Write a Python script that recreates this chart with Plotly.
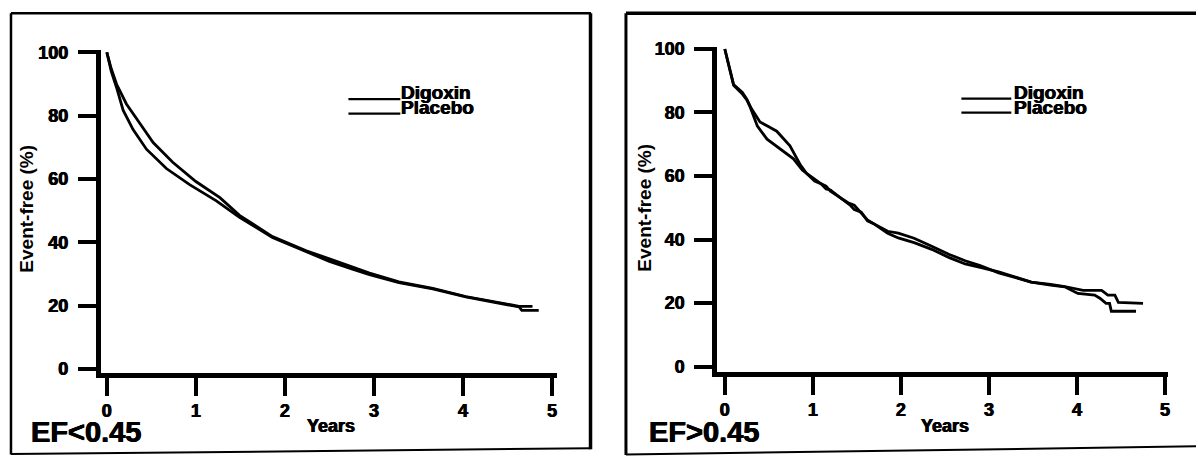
import plotly.graph_objects as go

# ---- Kaplan-Meier style event-free curves (years, % event-free) ----
# EF < 0.45
low_dig_t = [0, 0.05, 0.11, 0.22, 0.37, 0.52, 0.74, 1.00, 1.27, 1.49, 1.86, 2.24, 2.50, 2.75, 2.95, 3.28, 3.66, 4.03, 4.41, 4.63, 4.78]
low_dig_v = [100, 94.8, 89.9, 83.7, 77.6, 71.5, 65.3, 59.2, 54.1, 48.5, 41.8, 37.3, 34.8, 32.4, 30.3, 27.5, 25.5, 22.9, 20.9, 19.8, 19.8]
low_pla_t = [0, 0.05, 0.109, 0.183, 0.295, 0.445, 0.669, 0.93, 1.23, 1.49, 1.86, 2.24, 2.50, 2.75, 2.95, 3.28, 3.66, 4.03, 4.41, 4.63, 4.66, 4.85]
low_pla_v = [100, 94.0, 88.9, 81.7, 75.6, 69.4, 63.3, 58.2, 53.1, 47.9, 41.5, 37.0, 34.0, 31.6, 29.8, 27.3, 25.3, 22.8, 20.7, 19.6, 18.5, 18.5]

# EF > 0.45
high_dig_t = [0, 0.05, 0.10, 0.20, 0.25, 0.30, 0.40, 0.50, 0.59, 0.74, 0.86, 0.93, 1.00, 1.09, 1.15, 1.20, 1.31, 1.40, 1.47, 1.55, 1.62, 1.69, 1.85, 1.97, 2.15, 2.35, 2.55, 2.73, 2.90, 3.11, 3.30, 3.48, 3.70, 3.86, 4.07, 4.28, 4.35, 4.43, 4.47, 4.75]
high_dig_v = [100, 94.3, 88.8, 86.3, 84.2, 81.3, 77.0, 75.5, 74.1, 69.5, 63.4, 60.8, 59.4, 57.6, 56.8, 55.2, 53.2, 51.6, 50.8, 48.2, 46.2, 45.0, 42.6, 42.0, 40.4, 37.9, 35.3, 33.3, 31.8, 29.5, 28.1, 26.6, 25.9, 25.2, 24.0, 24.0, 22.5, 22.5, 20.2, 19.9]
high_pla_t = [0, 0.05, 0.10, 0.20, 0.25, 0.29, 0.37, 0.48, 0.63, 0.78, 0.88, 0.93, 1.02, 1.09, 1.15, 1.20, 1.31, 1.42, 1.47, 1.55, 1.62, 1.69, 1.85, 1.97, 2.15, 2.35, 2.55, 2.73, 2.90, 3.11, 3.30, 3.48, 3.70, 3.86, 4.01, 4.20, 4.26, 4.33, 4.37, 4.39, 4.67]
high_pla_v = [100, 94.0, 88.6, 85.8, 84.0, 81.6, 75.7, 71.6, 68.5, 65.4, 61.9, 60.8, 58.4, 57.6, 55.9, 55.6, 53.2, 50.9, 49.4, 48.6, 45.9, 45.0, 42.0, 40.5, 39.0, 36.9, 34.3, 32.3, 31.2, 29.8, 28.2, 26.6, 25.6, 25.1, 23.0, 22.5, 21.5, 19.9, 19.9, 17.4, 17.4]

x_ticks = [0, 1, 2, 3, 4, 5]
y_ticks = [0, 20, 40, 60, 80, 100]
series_names = ["Digoxin", "Placebo"]
panel_labels = ["EF<0.45", "EF>0.45"]
x_title = "Years"
y_title = "Event-free (%)"

W, H = 1198, 464
FONT = "Liberation Sans, Arial, Helvetica, sans-serif"
INK = "black"
HEAVY = "0.45px 0 0 black, -0.45px 0 0 black"


def fx(p):
    return p / W


def fy(p):
    return 1 - p / H


fig = go.Figure()

line_style = dict(color=INK, width=2.8)
for t, v, name in [(low_dig_t, low_dig_v, series_names[0]), (low_pla_t, low_pla_v, series_names[1])]:
    fig.add_trace(go.Scatter(x=t, y=v, mode="lines", name=name, line=line_style,
                             xaxis="x", yaxis="y", showlegend=False))
for t, v, name in [(high_dig_t, high_dig_v, series_names[0]), (high_pla_t, high_pla_v, series_names[1])]:
    fig.add_trace(go.Scatter(x=t, y=v, mode="lines", name=name, line=line_style,
                             xaxis="x2", yaxis="y2", showlegend=False))

tickfont = dict(family=FONT, size=18, color=INK, weight="bold", shadow=HEAVY)


def xaxis_cfg(dom, rng, anchor):
    return dict(domain=dom, range=rng, tickvals=x_ticks, ticks="outside", ticklen=18,
                tickwidth=4, tickcolor=INK, showline=True, linewidth=5, linecolor=INK,
                showgrid=False, zeroline=False, tickfont=tickfont, anchor=anchor,
                ticklabelstandoff=0)


def yaxis_cfg(dom, rng, anchor):
    return dict(domain=dom, range=rng, tickvals=y_ticks, ticks="outside", ticklen=18,
                tickwidth=4, tickcolor=INK, showline=True, linewidth=5, linecolor=INK,
                showgrid=False, zeroline=False, tickfont=tickfont, anchor=anchor,
                ticklabelstandoff=6)


# plot areas in pixels; year 0 / 0% positions and px-per-unit give the ranges
L_dom_x = [101, 558]
L_dom_y = [377, 44]
R_dom_x = [718.5, 1170]
R_dom_y = [376, 41]

fig.update_layout(
    width=W, height=H, margin=dict(l=0, r=0, t=0, b=0),
    paper_bgcolor="white", plot_bgcolor="white", showlegend=False,
    xaxis=xaxis_cfg([fx(L_dom_x[0]), fx(L_dom_x[1])],
                    [(L_dom_x[0] - 107) / 89.2, (L_dom_x[1] - 107) / 89.2], "y"),
    yaxis=yaxis_cfg([fy(L_dom_y[0]), fy(L_dom_y[1])],
                    [(373.3 - L_dom_y[0]) / 3.266, (373.3 - L_dom_y[1]) / 3.266], "x"),
    xaxis2=xaxis_cfg([fx(R_dom_x[0]), fx(R_dom_x[1])],
                     [(R_dom_x[0] - 726) / 88.2, (R_dom_x[1] - 726) / 88.2], "y2"),
    yaxis2=yaxis_cfg([fy(R_dom_y[0]), fy(R_dom_y[1])],
                     [(370.7 - R_dom_y[0]) / 3.274, (370.7 - R_dom_y[1]) / 3.274], "x2"),
)

shapes = []


def seg(x0, y0, x1, y1, w, color=INK):
    shapes.append(dict(type="line", xref="paper", yref="paper",
                       x0=fx(x0), y0=fy(y0), x1=fx(x1), y1=fy(y1),
                       line=dict(color=color, width=w)))


# panel frames
seg(11, 6.5, 592, 6.5, 2.5)
seg(11, 6.5, 11, 461.5, 2.5)
seg(591.5, 6.5, 591.5, 456, 3.5)
seg(11, 461, 592, 455, 2)
seg(627, 6.5, 1198, 6.5, 3.5)
seg(627, 6.5, 627, 462, 3)
seg(627, 461.5, 1198, 453, 2)

annotations = []


def text(x, y, s, size, angle=0, xanchor="center", heavy=True):
    f = dict(family=FONT, size=size, color=INK, weight="bold")
    if heavy:
        f["shadow"] = HEAVY
    annotations.append(dict(xref="paper", yref="paper", x=fx(x), y=fy(y), text=s,
                            showarrow=False, textangle=angle, xanchor=xanchor, yanchor="middle",
                            font=f))


# legend keys: short rule ending where the series name begins
for (lx0, lx1, tx, ys) in [(349, 401, 400, [(95, 88.5), (110, 103.5)]),
                           (963, 1013, 1014, [(94.5, 88.5), (109, 103.5)])]:
    for (ly, ty), name in zip(ys, series_names):
        seg(lx0, ly, lx1, ly, 2.2)
        text(tx, ty, name, 19, xanchor="left")

text(332, 432, x_title, 18)
text(947, 432, x_title, 18)
text(86, 438.5, panel_labels[0], 29)
text(705, 438.5, panel_labels[1], 29)
text(27, 208, y_title, 19, angle=-90, heavy=False)
text(646, 207, y_title, 19, angle=-90, heavy=False)

fig.update_layout(shapes=shapes, annotations=annotations)

fig.write_html("out.html")
